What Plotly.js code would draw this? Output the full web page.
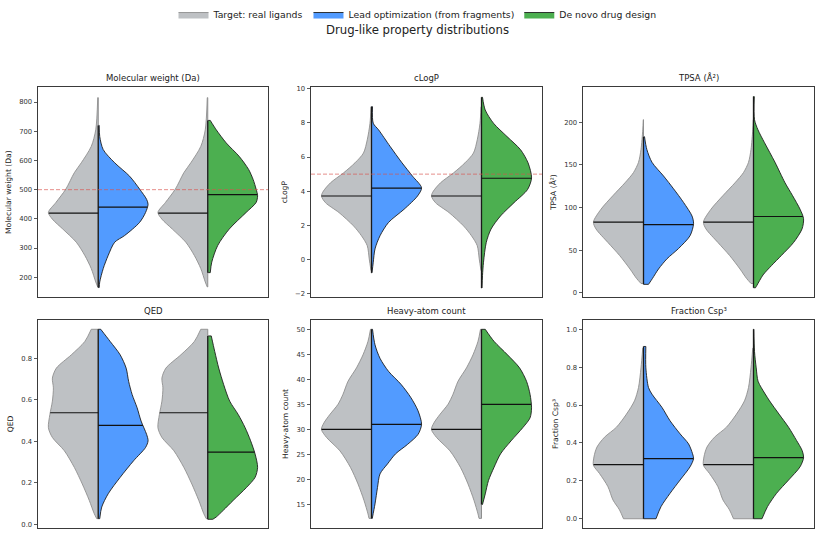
<!DOCTYPE html>
<html>
<head>
<meta charset="utf-8">
<script src="https://cdn.plot.ly/plotly-3.0.1.min.js"></script>
<style>
  html, body { margin: 0; padding: 0; background: #fff; }
  #chart { width: 835px; height: 559px; }
</style>
</head>
<body>
<div id="chart"></div>
<script>
// ---- groups ---------------------------------------------------------------
const groupNames = ['Target: real ligands', 'Lead optimization (from fragments)', 'De novo drug design'];
const fillColors = ['#bec1c4', '#529bff', '#4caf50'];
const edgeColors = ['#8e8e8e', '#1e1e1e', '#1e1e1e'];

const panelTitles = ['Molecular weight (Da)', 'cLogP', 'TPSA (Å²)', 'QED', 'Heavy-atom count', 'Fraction Csp³'];
const axisTitles  = ['Molecular weight (Da)', 'cLogP', 'TPSA (Å²)', 'QED', 'Heavy-atom count', 'Fraction Csp³'];

// ---- density profiles: property value levels and relative half-widths ------
// Molecular weight
const mwRefY   = [167, 184, 230, 275, 320, 365, 399, 422, 456, 502, 558, 592, 648, 705, 815];
const mwRefW   = [0.01, 0.05, 0.14, 0.27, 0.44, 0.71, 0.92, 1.0, 0.85, 0.65, 0.48, 0.34, 0.14, 0.05, 0.01];
const mwLeadY  = [165, 184, 230, 275, 320, 343, 388, 422, 450, 467, 502, 546, 592, 637, 682, 720];
const mwLeadW  = [0.02, 0.03, 0.10, 0.20, 0.33, 0.53, 0.83, 0.95, 1.0, 0.97, 0.83, 0.63, 0.33, 0.10, 0.03, 0.02];
const mwDenovoY = [216, 252, 309, 365, 422, 456, 479, 502, 535, 569, 614, 660, 705, 737];
const mwDenovoW = [0.05, 0.08, 0.20, 0.43, 0.77, 0.97, 1.0, 0.97, 0.91, 0.82, 0.63, 0.37, 0.17, 0.05];
const mwMedians = [420, 440, 483];

// cLogP
const logpRefY   = [-0.65, 0.03, 0.81, 1.39, 1.97, 2.75, 3.33, 3.72, 4.01, 4.49, 5.07, 5.66, 6.24, 7.01, 7.98, 8.95];
const logpRefW   = [0.01, 0.045, 0.085, 0.20, 0.36, 0.65, 0.92, 1.0, 0.96, 0.82, 0.56, 0.33, 0.16, 0.085, 0.03, 0.01];
const logpLeadY  = [-0.78, -0.16, 0.62, 1.39, 2.17, 2.94, 3.72, 4.20, 4.88, 5.66, 6.63, 7.60, 7.98, 8.95];
const logpLeadW  = [0.01, 0.035, 0.07, 0.17, 0.34, 0.65, 0.92, 1.0, 0.82, 0.61, 0.37, 0.14, 0.035, 0.02];
const logpDenovoY = [-1.67, -0.94, -0.16, 1.00, 1.78, 2.55, 3.33, 4.10, 4.78, 5.66, 6.43, 7.20, 7.98, 8.76, 9.50];
const logpDenovoW = [0.01, 0.02, 0.04, 0.095, 0.19, 0.38, 0.65, 0.92, 1.0, 0.93, 0.78, 0.51, 0.24, 0.074, 0.02];
const logpMedians = [3.72, 4.18, 4.76];

// TPSA
const tpsaRefY   = [11, 17, 28, 44, 59, 75, 83, 98, 114, 129, 141, 153, 168, 191, 203];
const tpsaRefW   = [0.05, 0.14, 0.27, 0.48, 0.71, 0.95, 1.0, 0.85, 0.61, 0.37, 0.20, 0.10, 0.05, 0.015, 0.005];
const tpsaLeadY  = [10, 17, 28, 40, 52, 67, 81, 90, 106, 122, 137, 153, 168, 183];
const tpsaLeadW  = [0.10, 0.18, 0.30, 0.47, 0.70, 0.93, 1.0, 0.97, 0.80, 0.60, 0.40, 0.17, 0.067, 0.02];
const tpsaDenovoY = [6, 9, 21, 32, 44, 59, 75, 87, 98, 114, 129, 153, 176, 191, 203, 230];
const tpsaDenovoW = [0.04, 0.07, 0.19, 0.36, 0.56, 0.80, 0.97, 1.0, 0.93, 0.78, 0.63, 0.43, 0.22, 0.09, 0.02, 0.015];
const tpsaMedians = [83, 80, 89.5];

// QED
const qedRefY   = [0.027, 0.051, 0.115, 0.194, 0.274, 0.354, 0.418, 0.465, 0.529, 0.593, 0.657, 0.704, 0.752, 0.816, 0.880, 0.939];
const qedRefW   = [0.03, 0.08, 0.18, 0.32, 0.48, 0.68, 0.92, 1.0, 0.97, 0.92, 0.90, 0.92, 0.84, 0.54, 0.27, 0.14];
const qedLeadY  = [0.027, 0.083, 0.147, 0.226, 0.306, 0.370, 0.402, 0.433, 0.497, 0.561, 0.625, 0.688, 0.752, 0.816, 0.880, 0.939];
const qedLeadW  = [0.03, 0.07, 0.20, 0.44, 0.71, 0.95, 1.0, 0.97, 0.86, 0.78, 0.68, 0.61, 0.56, 0.44, 0.24, 0.05];
const qedDenovoY = [0.024, 0.035, 0.067, 0.115, 0.178, 0.226, 0.274, 0.338, 0.402, 0.465, 0.529, 0.593, 0.672, 0.752, 0.832, 0.907];
const qedDenovoW = [0.10, 0.17, 0.31, 0.51, 0.78, 0.95, 1.0, 0.95, 0.86, 0.75, 0.61, 0.44, 0.32, 0.22, 0.14, 0.07];
const qedMedians = [0.537, 0.476, 0.347];

// Heavy-atom count
const hacRefY   = [12.2, 13.1, 15.8, 19.1, 22.4, 25.7, 28.4, 30.0, 31.3, 33.0, 35.0, 37.0, 39.6, 42.3, 44.9, 47.6, 50.0];
const hacRefW   = [0.05, 0.07, 0.15, 0.27, 0.42, 0.63, 0.90, 1.0, 0.95, 0.83, 0.67, 0.57, 0.47, 0.30, 0.17, 0.07, 0.02];
const hacLeadY  = [12.2, 15.1, 18.4, 21.1, 23.1, 25.1, 27.0, 29.0, 31.0, 33.7, 36.3, 39.0, 41.6, 44.2, 46.9, 50.0];
const hacLeadW  = [0.015, 0.07, 0.12, 0.17, 0.32, 0.48, 0.72, 0.93, 1.0, 0.93, 0.79, 0.59, 0.34, 0.17, 0.07, 0.02];
const hacDenovoY = [15.0, 17.1, 19.8, 22.4, 25.1, 27.7, 30.4, 32.3, 34.3, 37.0, 39.6, 42.3, 44.9, 47.6, 50.0];
const hacDenovoW = [0.02, 0.075, 0.14, 0.25, 0.38, 0.59, 0.83, 0.97, 1.0, 0.97, 0.90, 0.76, 0.52, 0.25, 0.075];
const hacMedians = [30, 31, 35];

// Fraction Csp3
const fspRefY   = [0.0, 0.047, 0.099, 0.169, 0.239, 0.282, 0.326, 0.378, 0.430, 0.483, 0.552, 0.622, 0.692, 0.796, 0.900];
const fspRefW   = [0.40, 0.48, 0.61, 0.71, 0.88, 1.0, 0.99, 0.93, 0.78, 0.54, 0.34, 0.18, 0.10, 0.05, 0.015];
const fspLeadY  = [0.0, 0.064, 0.134, 0.204, 0.274, 0.317, 0.343, 0.395, 0.448, 0.517, 0.587, 0.657, 0.692, 0.796, 0.909];
const fspLeadW  = [0.25, 0.35, 0.53, 0.73, 0.93, 1.0, 0.98, 0.90, 0.73, 0.53, 0.37, 0.17, 0.10, 0.047, 0.047];
const fspDenovoY = [0.0, 0.064, 0.134, 0.204, 0.274, 0.322, 0.361, 0.413, 0.483, 0.552, 0.622, 0.692, 0.726, 0.796, 0.883, 1.0];
const fspDenovoW = [0.17, 0.28, 0.46, 0.70, 0.93, 1.0, 0.97, 0.86, 0.70, 0.51, 0.32, 0.155, 0.09, 0.054, 0.02, 0.007];
const fspMedians = [0.286, 0.317, 0.322];

// ---- axes -----------------------------------------------------------------
const mwTicks   = [200, 300, 400, 500, 600, 700, 800];
const logpTicks = [-2, 0, 2, 4, 6, 8, 10];
const tpsaTicks = [0, 50, 100, 150, 200];
const qedTicks  = [0.0, 0.2, 0.4, 0.6, 0.8];
const hacTicks  = [15, 20, 25, 30, 35, 40, 45, 50];
const fspTicks  = [0.0, 0.2, 0.4, 0.6, 0.8, 1.0];

const mwLimit = 500;   // Lipinski MW cutoff
const logpLimit = 5;   // Lipinski cLogP cutoff

const panels = [
  { ref: [mwRefY, mwRefW], lead: [mwLeadY, mwLeadW], denovo: [mwDenovoY, mwDenovoW], med: mwMedians,
    ticks: mwTicks, range: [133, 850], fmt: '', limit: mwLimit },
  { ref: [logpRefY, logpRefW], lead: [logpLeadY, logpLeadW], denovo: [logpDenovoY, logpDenovoW], med: logpMedians,
    ticks: logpTicks, range: [-2.19, 10.08], fmt: '', limit: logpLimit },
  { ref: [tpsaRefY, tpsaRefW], lead: [tpsaLeadY, tpsaLeadW], denovo: [tpsaDenovoY, tpsaDenovoW], med: tpsaMedians,
    ticks: tpsaTicks, range: [-4.7, 240.8], fmt: '' },
  { ref: [qedRefY, qedRefW], lead: [qedLeadY, qedLeadW], denovo: [qedDenovoY, qedDenovoW], med: qedMedians,
    ticks: qedTicks, range: [-0.019, 0.985], fmt: '.1f' },
  { ref: [hacRefY, hacRefW], lead: [hacLeadY, hacLeadW], denovo: [hacDenovoY, hacDenovoW], med: hacMedians,
    ticks: hacTicks, range: [10.24, 51.92], fmt: '' },
  { ref: [fspRefY, fspRefW], lead: [fspLeadY, fspLeadW], denovo: [fspDenovoY, fspDenovoW], med: fspMedians,
    ticks: fspTicks, range: [-0.05, 1.05], fmt: '.1f' }
];

// ---- geometry ---------------------------------------------------------------
const HALF = 0.455;                      // widest half-violin, in category units
const W = 835, H = 559;
const colPx = [[38, 268], [311, 542], [583, 814]];
const rowPx = [[84, 295], [318, 528]];

function widthAt(ys, ws, v) {
  if (v <= ys[0]) return ws[0];
  for (let i = 1; i < ys.length; i++) {
    if (v <= ys[i]) {
      const t = (v - ys[i - 1]) / (ys[i] - ys[i - 1]);
      return ws[i - 1] + t * (ws[i] - ws[i - 1]);
    }
  }
  return ws[ws.length - 1];
}

const traces = [];
const shapes = [];
const annotations = [];
const layout = {
  width: W, height: H,
  margin: { l: 0, r: 0, t: 0, b: 0 },
  paper_bgcolor: '#ffffff', plot_bgcolor: '#ffffff',
  font: { family: 'DejaVu Sans, sans-serif', color: '#222' },
  title: { text: 'Drug-like property distributions', x: 0.5, xanchor: 'center',
           y: 1 - 30 / H, yanchor: 'middle', yref: 'container',
           font: { size: 11.7, color: '#222' } },
  legend: { orientation: 'h', x: 0.5, xanchor: 'center', y: 1 + 4 / H, yanchor: 'top',
            font: { size: 9.3, color: '#222' }, itemwidth: 30, tracegroupgap: 0,
            bgcolor: 'rgba(0,0,0,0)' },
  showlegend: true,
  shapes: shapes,
  annotations: annotations
};

panels.forEach((p, idx) => {
  const n = idx + 1;
  const xa = n === 1 ? 'x' : 'x' + n;
  const ya = n === 1 ? 'y' : 'y' + n;
  const col = colPx[idx % 3], row = rowPx[Math.floor(idx / 3)];
  const xd = [col[0] / W, col[1] / W];
  const yd = [1 - row[1] / H, 1 - row[0] / H];

  layout['xaxis' + (n === 1 ? '' : n)] = {
    domain: xd, anchor: ya, range: [-0.55, 1.55],
    showticklabels: false, ticks: '', showgrid: false, zeroline: false,
    showline: true, mirror: true, linecolor: '#3a3a3a', linewidth: 1, fixedrange: true
  };
  layout['yaxis' + (n === 1 ? '' : n)] = {
    domain: yd, anchor: xa, range: p.range,
    tickmode: 'array', tickvals: p.ticks, tickformat: p.fmt,
    ticks: 'outside', ticklen: 3.5, tickwidth: 0.8, tickcolor: '#333',
    tickfont: { size: 6.8, color: '#333' },
    showgrid: false, zeroline: false,
    showline: true, mirror: true, linecolor: '#3a3a3a', linewidth: 1,
    title: { text: axisTitles[idx], font: { size: 7.6, color: '#222' }, standoff: 6 },
    fixedrange: true
  };

  annotations.push({
    text: panelTitles[idx], xref: 'paper', yref: 'paper',
    x: (xd[0] + xd[1]) / 2, y: yd[1], xanchor: 'center', yanchor: 'bottom', yshift: 2,
    showarrow: false, font: { size: 8.5, color: '#222' }
  });

  if (p.limit !== undefined) {
    shapes.push({
      type: 'line', xref: xa + ' domain', yref: ya, x0: 0, x1: 1, y0: p.limit, y1: p.limit,
      line: { color: '#d9534f', width: 1, dash: '4px,2px' }, opacity: 0.65, layer: 'above'
    });
  }

  // halves: [position, side, profile, group]
  const halves = [
    [0, -1, p.ref, 0], [0, 1, p.lead, 1],
    [1, -1, p.ref, 0], [1, 1, p.denovo, 2]
  ];

  halves.forEach(([pos, side, prof, k], hi) => {
    const ys = prof[0], ws = prof[1];
    const xs = ws.map(w => pos + side * HALF * w);
    const last = ys.length - 1;
    // anchor along the centre line for the fill
    traces.push({ type: 'scatter', x: [pos, pos], y: [ys[0], ys[last]], xaxis: xa, yaxis: ya,
                  mode: 'lines', line: { width: 0 }, hoverinfo: 'skip', showlegend: false });
    traces.push({ type: 'scatter', x: xs, y: ys, xaxis: xa, yaxis: ya, mode: 'lines',
                  line: { shape: 'spline', smoothing: 0.8, color: edgeColors[k], width: 0.9 },
                  fill: 'tonextx', fillcolor: fillColors[k],
                  name: groupNames[k], legendgroup: 'g' + k,
                  showlegend: idx === 0 && (hi === 0 || hi === 1 || hi === 3),
                  hoverinfo: 'skip' });
    // flat end caps
    traces.push({ type: 'scatter', x: [pos, xs[0], null, pos, xs[last]],
                  y: [ys[0], ys[0], null, ys[last], ys[last]], xaxis: xa, yaxis: ya,
                  mode: 'lines', line: { color: edgeColors[k], width: 0.9 },
                  hoverinfo: 'skip', showlegend: false });
  });

  // centre lines and medians on top of the fills
  halves.forEach(([pos, side, prof, k]) => {
    const ys = prof[0];
    const last = ys.length - 1;
    traces.push({ type: 'scatter', x: [pos, pos], y: [ys[0], ys[last]], xaxis: xa, yaxis: ya,
                  mode: 'lines', line: { color: k === 0 ? '#8e8e8e' : '#1a1a1a', width: k === 0 ? 1 : 1.3 },
                  hoverinfo: 'skip', showlegend: false });
  });
  halves.forEach(([pos, side, prof, k]) => {
    const ys = prof[0], ws = prof[1];
    const m = p.med[k];
    const wm = widthAt(ys, ws, m);
    traces.push({ type: 'scatter', x: [pos, pos + side * HALF * wm], y: [m, m], xaxis: xa, yaxis: ya,
                  mode: 'lines', line: { color: '#111', width: 1.2 },
                  hoverinfo: 'skip', showlegend: false });
  });
});

Plotly.newPlot('chart', traces, layout, { displayModeBar: false, staticPlot: true });
</script>
</body>
</html>
